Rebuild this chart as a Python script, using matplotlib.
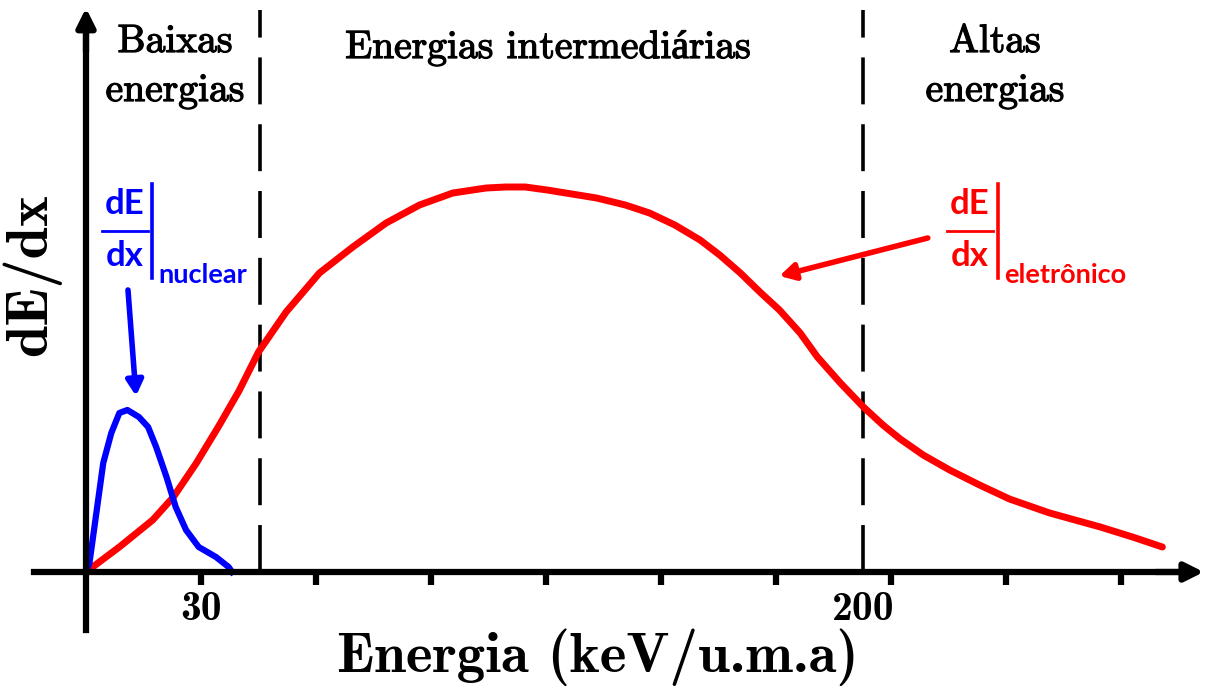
import numpy as np
import matplotlib.pyplot as plt
import matplotlib.patheffects as pe

# curves in axis units (1 x unit = one tick spacing)
red_x = [0, 0.29, 0.58, 0.76, 0.96, 1.16, 1.33, 1.50, 1.74, 2.03, 2.32, 2.61,
         2.90, 3.19, 3.48, 3.65, 3.82, 4.01, 4.44, 4.69, 4.90, 5.12, 5.34, 5.51,
         5.69, 5.86, 6.03, 6.21, 6.36, 6.56, 6.76, 6.93, 7.08, 7.28, 7.51, 7.77,
         8.03, 8.38, 8.82, 9.10, 9.36]
red_y = [0, 0.25, 0.52, 0.75, 1.09, 1.47, 1.81, 2.20, 2.60, 2.99, 3.25, 3.49,
         3.67, 3.79, 3.84, 3.85, 3.85, 3.82, 3.74, 3.67, 3.59, 3.47, 3.32, 3.17,
         2.99, 2.80, 2.62, 2.39, 2.15, 1.89, 1.65, 1.47, 1.33, 1.17, 1.02, 0.87,
         0.73, 0.59, 0.45, 0.35, 0.25]
blue_x = [0, 0.03, 0.09, 0.15, 0.22, 0.29, 0.36, 0.46, 0.54, 0.61, 0.70, 0.78,
          0.87, 0.98, 1.13, 1.24, 1.27]
blue_y = [0, 0.09, 0.59, 1.09, 1.39, 1.59, 1.62, 1.55, 1.45, 1.25, 0.95, 0.65,
          0.42, 0.25, 0.15, 0.05, 0]

tick_pos = [1, 2, 3, 4, 5, 6, 7, 8, 9]
tick_labels = ['30', '', '', '', '', '', '', '', '']
region_edges = [1.51, 6.76]
regions = ['Baixas\nenergias', 'Energias intermediárias', 'Altas\nenergias']

fig = plt.figure(figsize=(12.07, 6.88), dpi=100)
ax = fig.add_axes([0, 0, 1, 1])
ax.set_xlim(-86 / 115, (1207 - 86) / 115)
ax.set_ylim(-1.16, 5.72)


def fx(x, y):
    # pixel position -> figure fraction
    return x / 1207, 1 - y / 688


# axes as spines through the origin
for s in ['top', 'right']:
    ax.spines[s].set_visible(False)
ax.spines['bottom'].set_position(('data', 0))
ax.spines['left'].set_position(('data', 0))
ax.spines['bottom'].set_bounds(-0.45, 9.5)
ax.spines['left'].set_bounds(-0.58, 5.4)
for s in ['bottom', 'left']:
    ax.spines[s].set_linewidth(4.5)
    ax.spines[s].set_zorder(5)
ax.set_yticks([])
ax.set_xticks(tick_pos, tick_labels)
ax.set_xticks([region_edges[1]], ['200'], minor=True)
ax.tick_params(axis='x', which='major', direction='out', length=9, width=4.5, pad=5)
ax.tick_params(axis='x', which='minor', length=0, pad=14)
for lab in ax.get_xticklabels(which='both'):
    lab.set_fontfamily('cmb10')
    lab.set_fontsize(30)

# arrow heads
ax.annotate('', xy=(9.72, 0), xytext=(9.3, 0),
            arrowprops=dict(arrowstyle='-|>,head_length=1.1,head_width=0.55',
                            lw=4.5, color='black', shrinkA=0, shrinkB=0), zorder=6)
ax.annotate('', xy=(0, 5.64), xytext=(0, 5.2),
            arrowprops=dict(arrowstyle='-|>,head_length=1.1,head_width=0.55',
                            lw=4.5, color='black', shrinkA=0, shrinkB=0), zorder=6)

# region separators
for xe in region_edges:
    ax.plot([xe, xe], [0, 5.62], color='black', lw=2.6, dashes=(13, 5.5), zorder=3)

ax.plot(red_x, red_y, color='#ff0000', lw=5, solid_joinstyle='round',
        solid_capstyle='round', zorder=4)
ax.plot(blue_x, blue_y, color='#0000ff', lw=4.5, solid_joinstyle='round', zorder=4)

# pointer arrows
ax.annotate('', xy=(0.435, 1.76), xytext=(0.365, 2.82),
            arrowprops=dict(arrowstyle='-|>,head_length=0.9,head_width=0.5',
                            lw=4, color='#0000ff', shrinkA=0, shrinkB=0))
ax.annotate('', xy=(6.03, 2.96), xytext=(7.32, 3.34),
            arrowprops=dict(arrowstyle='-|>,head_length=0.9,head_width=0.5',
                            lw=4, color='#ff0000', shrinkA=0, shrinkB=0))

# region titles, one text per line
hdr = dict(family=['cmr10', 'Liberation Serif'], fontsize=28.5, ha='center',
           va='baseline', path_effects=[pe.withStroke(linewidth=0.9, foreground='black')])
centers = [175, 548, 995]
for xc, name in zip(centers, regions):
    lines = name.split('\n')
    for k, line in enumerate(lines):
        fig.text(*fx(xc, 52 + 49 * k + (6 if len(lines) == 1 else 0)), line, **hdr)

# axis titles
fig.text(*fx(598, 657), 'Energia (keV/u.m.a)', fontfamily='cmb10', fontsize=41,
         ha='center', va='center')
fig.text(*fx(31, 275), 'dE/dx', fontfamily='cmb10', fontsize=42, rotation=90,
         ha='center', va='center')


def deriv_label(xc, xbar, sub, color):
    sans = dict(fontfamily='Lato', fontweight='bold', color=color)
    fig.text(*fx(xc, 204), 'dE', ha='center', va='center', fontsize=25, **sans)
    fig.text(*fx(xc, 256), 'dx', ha='center', va='center', fontsize=25, **sans)
    x0, y0 = fx(xc - 23, 231)
    x1, _ = fx(xc + 23, 231)
    fig.add_artist(plt.Line2D([x0, x1], [y0, y0], color=color, lw=2))
    xb, yb0 = fx(xbar, 184)
    _, yb1 = fx(xbar, 278)
    fig.add_artist(plt.Line2D([xb, xb], [yb0, yb1], color=color, lw=2.6))
    fig.text(*fx(xbar + 6, 283), sub, ha='left', va='baseline', fontsize=19.5, **sans)


deriv_label(125, 152, 'nuclear', '#0000ff')
deriv_label(970, 998, 'eletrônico', '#ff0000')

fig.savefig('out.png', dpi=100)
